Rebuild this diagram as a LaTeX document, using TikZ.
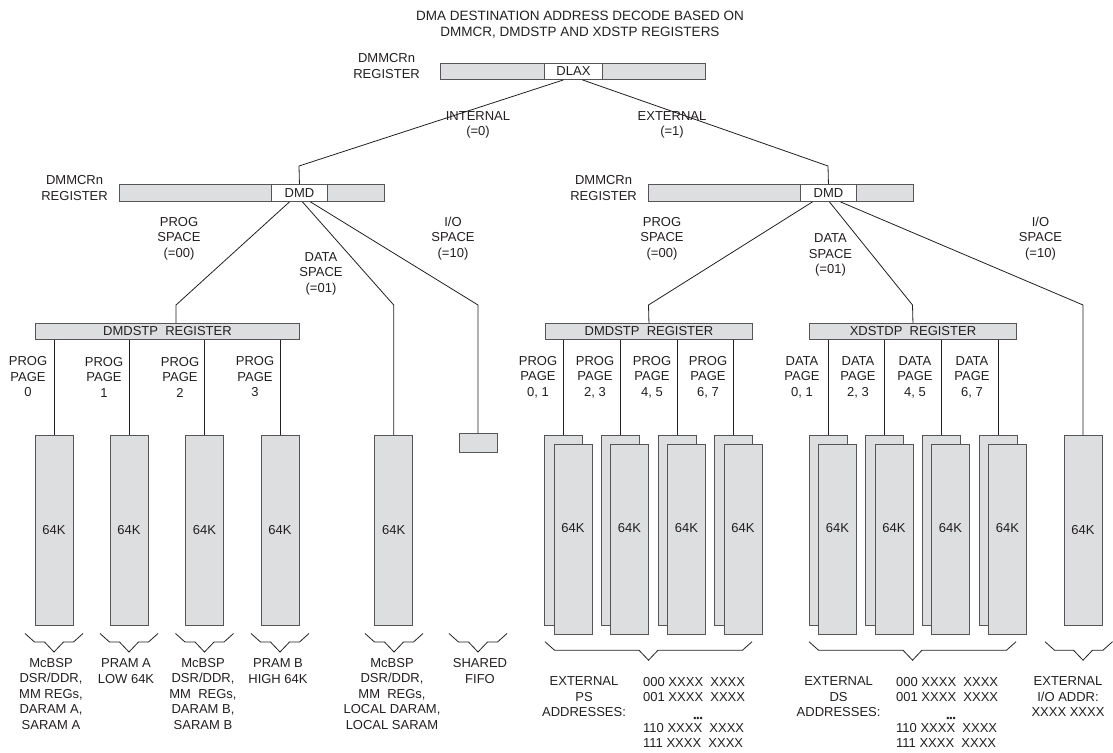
\documentclass[tikz,border=0pt]{standalone}
\usepackage{fontspec}
\setmainfont{Liberation Sans}
\definecolor{boxgray}{RGB}{221,222,224}
\definecolor{edgegray}{RGB}{85,85,88}
\definecolor{ink}{RGB}{35,31,32}
\tikzset{
  lbl/.style={align=center, inner sep=0pt, text=ink, font=\fontsize{13}{15.5}\selectfont},
  regbox/.style={draw=edgegray, fill=boxgray, line width=0.9pt, inner sep=0pt, minimum height=17pt, anchor=north west, text=ink, font=\fontsize{13}{15.5}\selectfont},
  fieldbox/.style={regbox, fill=white},
  mem/.style={draw=edgegray, fill=boxgray, line width=0.9pt, inner sep=0pt, minimum width=38pt, minimum height=190pt, anchor=north, text=ink, font=\fontsize{13}{15.5}\selectfont},
  wire/.style={draw=ink, line width=0.8pt},
  brace/.style={draw=ink, line width=0.8pt, line join=miter},
  dots/.style={inner sep=0pt, text=ink, font=\fontsize{9}{10}\selectfont},
}
\newcommand\BraceAt[4]{%
  \draw[brace] (#1,#4) -- ({#1+9.5},{#4+8.5}) -- ({#3-9.5},{#4+8.5}) -- (#3,{#4+18.5}) -- ({#3+9.5},{#4+8.5}) -- ({#2-9.5},{#4+8.5}) -- (#2,#4);}
\begin{document}
\begin{tikzpicture}[x=1pt,y=-1pt]
\useasboundingbox (0,0) rectangle (1113,752);

% title
\node[lbl, font=\fontsize{13.5}{15.5}\selectfont] (title) at (580,24.5) {DMA DESTINATION ADDRESS DECODE BASED ON\\DMMCR, DMDSTP AND XDSTP REGISTERS};

% top register
\node[regbox, minimum width=265pt, minimum height=16pt] (topreg) at (440,63) {};
\node[fieldbox, minimum width=58pt, minimum height=16pt] (dlax) at (544,63) {DLAX};
\node[lbl, anchor=east] (toplbl) at (420,66) {DMMCRn\\REGISTER};

% second level registers
\node[regbox, minimum width=265pt] (regL) at (119,184) {};
\node[fieldbox, minimum width=56pt] (dmdL) at (271,184) {DMD};
\node[lbl, anchor=east] (lblL) at (108,188) {DMMCRn\\REGISTER};

\node[regbox, minimum width=265pt] (regR) at (648,184) {};
\node[fieldbox, minimum width=56pt] (dmdR) at (800,184) {DMD};
\node[lbl, anchor=east] (lblR) at (637,188) {DMMCRn\\REGISTER};

\coordinate (bendL) at (299,166);
\coordinate (bendR) at (828,166);
\draw[wire] ([xshift=-10pt]dlax.south) -- (bendL) -- (dmdL.north);
\draw[wire] ([xshift=9pt]dlax.south) -- (bendR) -- (dmdR.north);
\node[lbl] (intl) at (478,125) {INTERNAL\\(=0)};
\node[lbl] (extl) at (672,125) {EXTERNAL\\(=1)};

% ---------- internal side ----------
\node[regbox, minimum width=264pt, minimum height=16pt] (stpL) at (35,323) {DMDSTP\ \ REGISTER};
\foreach \n/\x in {1/54,2/129,3/204.5,4/280,5/393.7}{
  \node[mem] (m\n) at (\x,435) {64K};
}
\node[mem, minimum height=19pt] (fifo) at (478,433) {};
\foreach \n in {1,2,3,4}{
  \draw[wire] (m\n |- stpL.south) -- (m\n.north);
}
\coordinate (pL) at (176,305);
\coordinate (dL) at (393.7,305);
\coordinate (iL) at (478,305);
\draw[wire] ([xshift=-10pt]dmdL.south) -- (pL) -- (pL |- stpL.north);
\draw[wire] ([xshift=3pt]dmdL.south) -- (dL) -- (m5.north);
\draw[wire] ([xshift=11pt]dmdL.south) -- (iL) -- (fifo.north);

\node[lbl] (psL) at (179,238.5) {PROG\\SPACE\\(=00)};
\node[lbl] (dsL) at (321,273.5) {DATA\\SPACE\\(=01)};
\node[lbl] (ioL) at (453,238.5) {I/O\\SPACE\\(=10)};

\node[lbl] (pg0) at (28,377) {PROG\\PAGE\\0};
\node[lbl] (pg1) at (104,377) {PROG\\PAGE\\1};
\node[lbl] (pg2) at (180,377) {PROG\\PAGE\\2};
\node[lbl] (pg3) at (255,377) {PROG\\PAGE\\3};

\BraceAt{25}{83}{54}{633.5}
\BraceAt{100}{158}{129}{633.5}
\BraceAt{175.5}{233.5}{204.5}{633.5}
\BraceAt{251}{309}{280}{633.5}
\BraceAt{365}{423}{394}{633.5}
\BraceAt{449}{507}{478}{633.5}

\node[lbl] (b1) at (51,694) {McBSP\\DSR/DDR,\\MM REGs,\\DARAM A,\\SARAM A};
\node[lbl] (b2) at (126,671) {PRAM A\\LOW 64K};
\node[lbl] (b3) at (203,694) {McBSP\\DSR/DDR,\\MM\ \ REGs,\\DARAM B,\\SARAM B};
\node[lbl] (b4) at (278,671) {PRAM B\\HIGH 64K};
\node[lbl] (b5) at (392,694) {McBSP\\DSR/DDR,\\MM\ \ REGs,\\LOCAL DARAM,\\LOCAL SARAM};
\node[lbl] (b6) at (480,671) {SHARED\\FIFO};

% ---------- external side ----------
\node[regbox, minimum width=207pt, minimum height=16pt] (stpR) at (545,323) {DMDSTP\ \ REGISTER};
\node[regbox, minimum width=207pt, minimum height=16pt] (xstp) at (809,323) {XDSTDP\ \ REGISTER};

\foreach \n/\x in {1/563.5,2/620,3/677,4/733.5}{
  \node[mem] (pb\n) at (\x,435) {};
  \node[mem] (pf\n) at ({\x+9.5},443.5) {};
  \node[lbl] (pt\n) at ({\x+9.5},528) {64K};
  \draw[wire] (pb\n |- stpR.south) -- (pb\n.north);
}
\foreach \n/\x in {1/828,2/884.5,3/941,4/998}{
  \node[mem] (db\n) at (\x,435) {};
  \node[mem] (df\n) at ({\x+9.5},443.5) {};
  \node[lbl] (dt\n) at ({\x+9.5},528) {64K};
  \draw[wire] (db\n |- xstp.south) -- (db\n.north);
}
\node[mem] (mio) at (1083,435) {64K};

\coordinate (pR) at (648.5,305);
\coordinate (dR) at (912.5,305);
\coordinate (iR) at (1083,305);
\draw[wire] ([xshift=-16pt]dmdR.south) -- (pR) -- (stpR.north);
\draw[wire] ([xshift=1pt]dmdR.south) -- (dR) -- (xstp.north);
\draw[wire] ([xshift=12pt]dmdR.south) -- (iR) -- (mio.north);

\node[lbl] (psR) at (662,238.5) {PROG\\SPACE\\(=00)};
\node[lbl] (dsR) at (830.5,255) {DATA\\SPACE\\(=01)};
\node[lbl] (ioR) at (1040.5,238.5) {I/O\\SPACE\\(=10)};

\node[lbl] (rp1) at (538,377) {PROG\\PAGE\\0, 1};
\node[lbl] (rp2) at (595,377) {PROG\\PAGE\\2, 3};
\node[lbl] (rp3) at (652,377) {PROG\\PAGE\\4, 5};
\node[lbl] (rp4) at (708,377) {PROG\\PAGE\\6, 7};
\node[lbl] (rd1) at (802,377) {DATA\\PAGE\\0, 1};
\node[lbl] (rd2) at (858,377) {DATA\\PAGE\\2, 3};
\node[lbl] (rd3) at (915,377) {DATA\\PAGE\\4, 5};
\node[lbl] (rd4) at (972,377) {DATA\\PAGE\\6, 7};

\BraceAt{545}{752}{648.5}{641.7}
\BraceAt{809}{1016}{912.5}{641.7}
\BraceAt{1045}{1112.5}{1083}{641.7}

\node[lbl] (extps) at (584,697) {EXTERNAL\\PS\\ADDRESSES:};
\node[lbl, anchor=west, align=left] (psa1) at (643,689.5) {000 XXXX\ \ XXXX\\001 XXXX\ \ XXXX};
\node[lbl, anchor=west, align=left] (psa2) at (643,735.5) {110 XXXX\ \ XXXX\\111 XXXX\ \ XXXX};
\node[dots] (psd) at (698,719.5) {•••};

\node[lbl] (extds) at (838.6,697) {EXTERNAL\\DS\\ADDRESSES:};
\node[lbl, anchor=west, align=left] (dsa1) at (896,689.5) {000 XXXX\ \ XXXX\\001 XXXX\ \ XXXX};
\node[lbl, anchor=west, align=left] (dsa2) at (896,735.5) {110 XXXX\ \ XXXX\\111 XXXX\ \ XXXX};
\node[dots] (dsd) at (951,719.5) {•••};

\node[lbl] (extio) at (1068,697) {EXTERNAL\\I/O ADDR:\\XXXX XXXX};
\end{tikzpicture}
\end{document}
